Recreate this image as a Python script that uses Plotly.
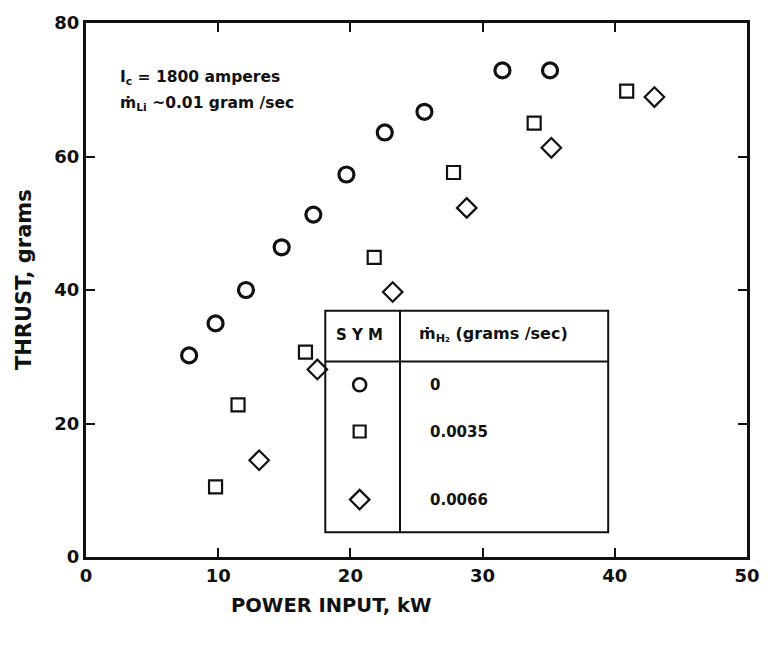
import plotly.graph_objects as go

# Data
circle_x = [7.8, 9.8, 12.1, 14.8, 17.2, 19.7, 22.6, 25.6, 31.5, 35.1]
circle_y = [30.2, 35.0, 40.0, 46.4, 51.3, 57.3, 63.6, 66.7, 72.9, 72.9]
square_x = [9.8, 11.5, 16.6, 21.8, 27.8, 33.9, 40.9]
square_y = [10.5, 22.8, 30.7, 44.9, 57.6, 65.0, 69.8]
diamond_x = [13.1, 17.5, 23.2, 28.8, 35.2, 43.0]
diamond_y = [14.5, 28.1, 39.7, 52.3, 61.3, 68.9]

x_ticks = [0, 10, 20, 30, 40, 50]
y_ticks = [0, 20, 40, 60, 80]
legend_labels = ["0", "0.0035", "0.0066"]

FONT = "DejaVu Sans"
BLACK = "#111111"

# plot-area pixel geometry (for placing axis titles)
PX_L, PX_R, PX_T, PX_B = 86, 747, 17, 557

fig = go.Figure()

fig.add_trace(go.Scatter(x=circle_x, y=circle_y, mode="markers",
                         marker=dict(symbol="circle-open", size=15, color=BLACK,
                                     line=dict(width=3.2, color=BLACK)),
                         showlegend=False, hoverinfo="skip"))
fig.add_trace(go.Scatter(x=square_x, y=square_y, mode="markers",
                         marker=dict(symbol="square-open", size=13, color=BLACK,
                                     line=dict(width=2.2, color=BLACK)),
                         showlegend=False, hoverinfo="skip"))
fig.add_trace(go.Scatter(x=diamond_x, y=diamond_y, mode="markers",
                         marker=dict(symbol="diamond-open", size=15, color=BLACK,
                                     line=dict(width=2.2, color=BLACK)),
                         showlegend=False, hoverinfo="skip"))

# Legend table (drawn inside the plot)
tbl_x0, tbl_xd, tbl_x1 = 18.1, 23.75, 39.5
tbl_y0, tbl_yh, tbl_y1 = 3.7, 29.3, 36.9
row_y = [25.8, 18.8, 8.6]
sym_x = 20.7

fig.add_shape(type="rect", x0=tbl_x0, x1=tbl_x1, y0=tbl_y0, y1=tbl_y1,
              line=dict(color=BLACK, width=2), fillcolor="white", layer="below")
fig.add_shape(type="line", x0=tbl_xd, x1=tbl_xd, y0=tbl_y0, y1=tbl_y1,
              line=dict(color=BLACK, width=2))
fig.add_shape(type="line", x0=tbl_x0, x1=tbl_x1, y0=tbl_yh, y1=tbl_yh,
              line=dict(color=BLACK, width=2))

fig.add_trace(go.Scatter(x=[sym_x], y=[row_y[0]], mode="markers",
                         marker=dict(symbol="circle-open", size=13, color=BLACK,
                                     line=dict(width=2.6, color=BLACK)),
                         showlegend=False, hoverinfo="skip"))
fig.add_trace(go.Scatter(x=[sym_x], y=[row_y[1]], mode="markers",
                         marker=dict(symbol="square-open", size=12, color=BLACK,
                                     line=dict(width=2.2, color=BLACK)),
                         showlegend=False, hoverinfo="skip"))
fig.add_trace(go.Scatter(x=[sym_x], y=[row_y[2]], mode="markers",
                         marker=dict(symbol="diamond-open", size=15, color=BLACK,
                                     line=dict(width=2.2, color=BLACK)),
                         showlegend=False, hoverinfo="skip"))

tfont = dict(family=FONT, size=15, color=BLACK, weight="bold")
fig.add_annotation(x=sym_x, y=33.2, text="S Y M", showarrow=False, font=tfont)
fig.add_annotation(x=30.8, y=33.4, text="ṁ<sub>H₂</sub> (grams /sec)", showarrow=False,
                   font=dict(family=FONT, size=16, color=BLACK, weight="bold"))
for lab, yy in zip(legend_labels, row_y):
    fig.add_annotation(x=25.9, y=yy, text=lab, showarrow=False, xanchor="left", font=tfont)

# Condition notes
nfont = dict(family=FONT, size=15.5, color=BLACK, weight="bold")
fig.add_annotation(x=2.4, y=71.8, text="I<sub>c</sub> = 1800 amperes", showarrow=False,
                   xanchor="left", font=nfont)
fig.add_annotation(x=2.4, y=67.8, text="ṁ<sub>Li</sub> ~0.01 gram /sec", showarrow=False,
                   xanchor="left", font=nfont)

title_font = dict(family=FONT, size=19.5, color=BLACK, weight="bold")
# x-axis title (offset to the left like in the reference)
fig.add_annotation(xref="paper", yref="paper",
                   x=(331 - PX_L) / (PX_R - PX_L), y=-(606 - PX_B) / (PX_B - PX_T),
                   xanchor="center", yanchor="middle", text="POWER INPUT, kW",
                   showarrow=False, font=title_font)
# y-axis title
fig.add_annotation(xref="paper", yref="paper",
                   x=-(PX_L - 24) / (PX_R - PX_L), y=(PX_B - 277) / (PX_B - PX_T),
                   xanchor="center", yanchor="middle", textangle=-90, text="THRUST, grams",
                   showarrow=False, font=dict(family=FONT, size=21, color=BLACK, weight="bold"))

axis_common = dict(showline=True, linewidth=3, linecolor=BLACK, mirror="ticks",
                   ticks="inside", ticklen=9, tickwidth=1.5, tickcolor=BLACK,
                   showgrid=False, zeroline=False,
                   tickfont=dict(family=FONT, size=18, color=BLACK, weight="bold"))

fig.update_xaxes(range=[0, 50], tickvals=x_ticks, **axis_common)
fig.update_yaxes(range=[0, 80], tickvals=y_ticks, **axis_common)

fig.update_layout(width=780, height=649, plot_bgcolor="white", paper_bgcolor="white",
                  margin=dict(l=PX_L, r=780 - PX_R, t=PX_T, b=649 - PX_B), showlegend=False)

fig.write_html("out.html")
